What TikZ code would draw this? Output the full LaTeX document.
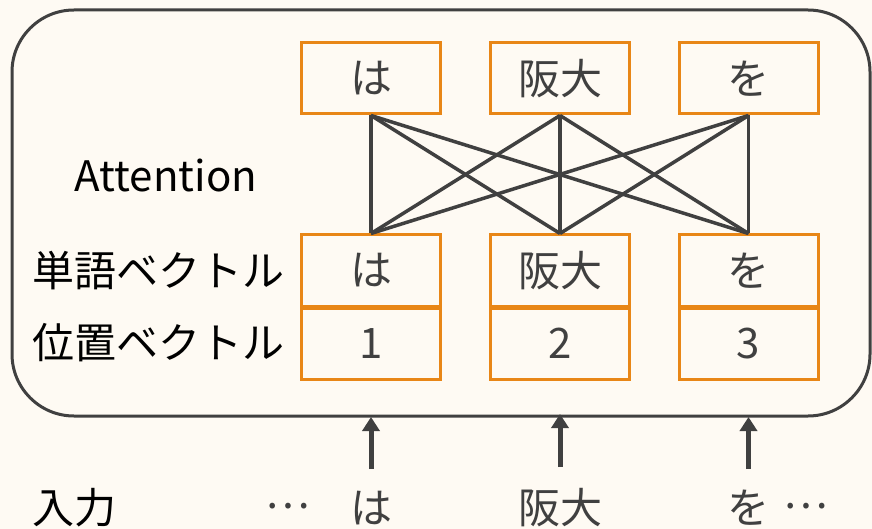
\documentclass[tikz,border=0pt]{standalone}
\usepackage{fontspec}
\setmainfont{Noto Sans CJK JP}
\usetikzlibrary{arrows.meta}
\definecolor{bg}{RGB}{254,250,243}
\definecolor{orng}{RGB}{232,134,22}
\definecolor{dgray}{RGB}{64,64,64}
\tikzset{
  tok/.style={draw=orng, line width=3pt, minimum width=139pt, minimum height=71pt, inner sep=0pt, text=dgray, font=\fontsize{42}{42}\selectfont},
  lbl/.style={inner sep=0pt, text=black, font=\fontsize{42}{42}\selectfont},
  link/.style={draw=dgray, line width=3.5pt},
  inarrow/.style={draw=dgray, line width=5pt, -{Triangle[length=14pt,width=17pt]}},
  intok/.style={inner sep=0pt, text=dgray, font=\fontsize{42}{42}\selectfont}
}
\begin{document}
\begin{tikzpicture}[x=1pt,y=-1pt]
\useasboundingbox (0,0) rectangle (872,529);
\fill[bg] (0,0) rectangle (872,529);
\draw[dgray, line width=3pt, rounded corners=62pt] (12,10) rectangle (870,416);
% top boxes
\node[tok] (t1) at (371,78.5) {は};
\node[tok] (t2) at (560,78.5) {阪大};
\node[tok] (t3) at (748.5,78.5) {を};
% bottom boxes
\node[tok] (w1) at (371,270.5) {は};
\node[tok] (w2) at (560,270.5) {阪大};
\node[tok] (w3) at (748.5,270.5) {を};
\node[tok] (p1) at (371,343.5) {1};
\node[tok] (p2) at (560,343.5) {2};
\node[tok] (p3) at (748.5,343.5) {3};
% links
\foreach \a in {t1,t2,t3}{
  \foreach \b in {w1,w2,w3}{
    \draw[link] (\a.south) -- (\b.north);
  }
}
% labels
\node[lbl] (att) at (166,175) {Attention};
\node[lbl, anchor=west] (wv) at (32,271) {単語ベクトル};
\node[lbl, anchor=west] (pv) at (32,343) {位置ベクトル};
% inputs
\node[lbl, anchor=west] (inp) at (32,508) {入力};
\node[intok] (d1) at (288,506) {…};
\node[intok] (i1) at (371,508) {は};
\node[intok] (i2) at (560,508) {阪大};
\node[intok] (i3) at (748.5,508) {を};
\node[intok] (d2) at (806,506) {…};
\coordinate (a1) at (371,469);
\coordinate (a2) at (560,467);
\coordinate (a3) at (748.5,469);
\coordinate (e1) at (371,417);
\coordinate (e2) at (560,414);
\coordinate (e3) at (748.5,417);
\draw[inarrow] (a1) -- (e1);
\draw[inarrow] (a2) -- (e2);
\draw[inarrow] (a3) -- (e3);
\end{tikzpicture}
\end{document}
